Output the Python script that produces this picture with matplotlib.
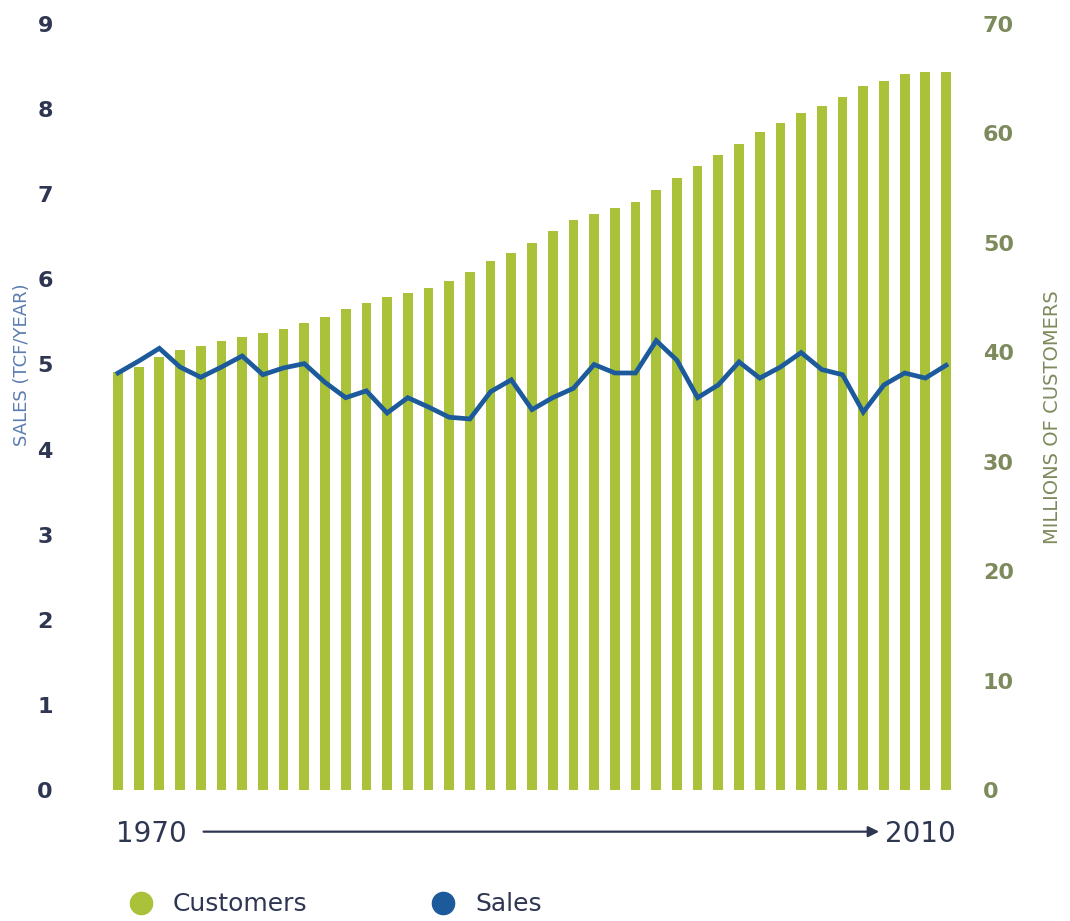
import numpy as np
import matplotlib.pyplot as plt
from matplotlib.lines import Line2D
from matplotlib.transforms import blended_transform_factory

# yearly series 1970-2010
years = list(range(1970, 2011))
customers = [38.2, 38.7, 39.6, 40.2, 40.6, 41.0, 41.4, 41.8, 42.1, 42.7,
             43.2, 44.0, 44.5, 45.1, 45.4, 45.9, 46.5, 47.3, 48.3, 49.1,
             50.0, 51.1, 52.1, 52.6, 53.2, 53.7, 54.8, 55.9, 57.0, 58.0,
             59.0, 60.1, 61.0, 61.9, 62.5, 63.3, 64.3, 64.8, 65.4, 65.6,
             65.6]
sales = [4.90, 5.04, 5.19, 4.97, 4.85, 4.97, 5.10, 4.88, 4.96, 5.01,
         4.79, 4.61, 4.69, 4.43, 4.61, 4.50, 4.38, 4.36, 4.68, 4.82,
         4.47, 4.61, 4.72, 5.00, 4.90, 4.90, 5.28, 5.05, 4.61, 4.76,
         5.03, 4.84, 4.97, 5.14, 4.94, 4.88, 4.44, 4.76, 4.90, 4.84,
         4.99]
sales_ticks = list(range(0, 10))
cust_ticks = list(range(0, 80, 10))

green = '#a9c23a'
blue = '#1d5a9c'
navy = '#2e3652'
olive = '#7d8a5c'

x = np.arange(len(years))

fig = plt.figure(figsize=(10.7, 9.21), dpi=100)
ax1 = fig.add_axes([0.0967, 0.1422, 0.801, 0.8317])
ax2 = ax1.twinx()

ax2.bar(x, customers, width=0.47, color=green)
ax1.plot(x, sales, color=blue, linewidth=3.4, solid_joinstyle='miter')

# line axis on top of the bars
ax1.set_zorder(ax2.get_zorder() + 1)
ax1.patch.set_visible(False)

ax1.set_xlim(-0.7, len(years) - 0.3)
ax1.set_ylim(0, 9)
ax2.set_ylim(0, 70)
ax1.set_yticks(sales_ticks)
ax2.set_yticks(cust_ticks)
ax1.set_xticks([])

for a in (ax1, ax2):
    for s in a.spines.values():
        s.set_visible(False)

ax1.tick_params(axis='y', length=0, pad=42, labelsize=16, labelcolor=navy)
ax2.tick_params(axis='y', length=0, pad=16, labelsize=16, labelcolor=olive)
for t in ax1.get_yticklabels():
    t.set_fontweight('bold')
    t.set_horizontalalignment('center')
for t in ax2.get_yticklabels():
    t.set_fontweight('bold')

fig.text(0.021, 0.604, 'SALES (TCF/YEAR)', rotation=90, ha='center', va='center',
         fontsize=13, color='#5b7db0')
fig.text(0.984, 0.547, 'MILLIONS OF CUSTOMERS', rotation=90, ha='center', va='center',
         fontsize=14, color=olive)

# timeline under the bars
tr = blended_transform_factory(ax1.transData, fig.transFigure)
ax1.text(-0.1, 0.095, str(years[0]), transform=tr, ha='left', va='center',
         fontsize=20, color=navy, clip_on=False)
ax1.text(len(years) - 0.55, 0.095, str(years[-1]), transform=tr, ha='right', va='center',
         fontsize=20, color=navy, clip_on=False)
ax1.annotate('', xy=(36.9, 0.097), xytext=(4.0, 0.097), xycoords=tr, textcoords=tr,
             arrowprops=dict(arrowstyle='-|>', color=navy, lw=1.6, mutation_scale=16),
             annotation_clip=False)

handles = [Line2D([], [], marker='o', linestyle='none', markersize=16, color=green),
           Line2D([], [], marker='o', linestyle='none', markersize=16, color=blue)]
fig.legend(handles, ['Customers', 'Sales'], loc='center left', ncol=2,
           bbox_to_anchor=(0.087, 0.018), frameon=False, fontsize=18,
           labelcolor=navy, handletextpad=0.3, columnspacing=4.4)

fig.savefig('out.png', dpi=100)
